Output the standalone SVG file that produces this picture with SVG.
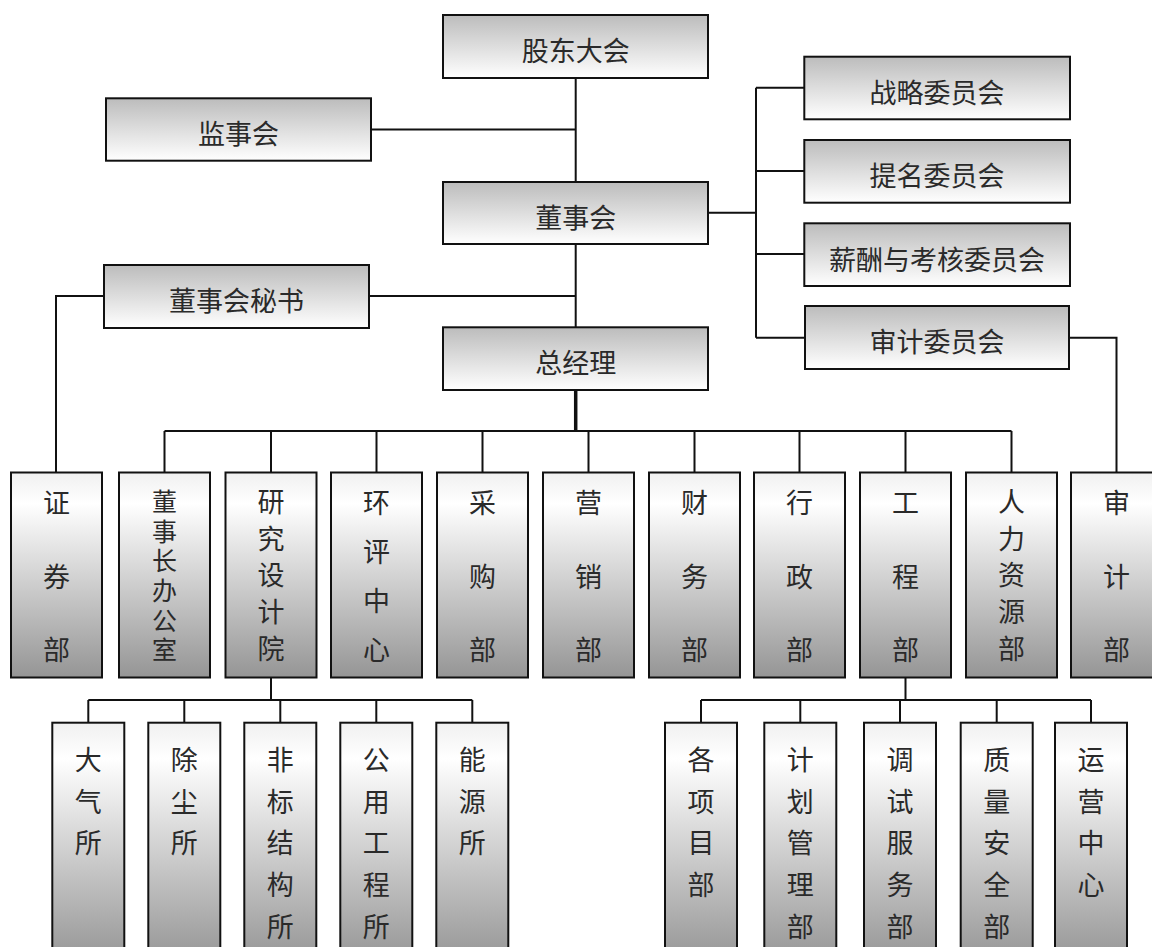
<svg xmlns="http://www.w3.org/2000/svg" width="1152" height="947" viewBox="0 0 1152 947">
<defs>
<linearGradient id="gh" x1="0" y1="0" x2="0" y2="1">
<stop offset="0" stop-color="#bcbcbc"/>
<stop offset="1" stop-color="#ffffff"/>
</linearGradient>
<linearGradient id="gv" x1="0" y1="0" x2="0" y2="1">
<stop offset="0" stop-color="#f0f0f0"/>
<stop offset="0.15" stop-color="#ffffff"/>
<stop offset="1" stop-color="#959595"/>
</linearGradient>
</defs>
<style>
.bh{fill:url(#gh);stroke:#111;stroke-width:2}
.bv{fill:url(#gv);stroke:#111;stroke-width:2}
.t{font-family:"Noto Sans CJK SC","Noto Sans CJK JP",sans-serif;font-size:27px;fill:#2a2a2a;text-anchor:middle}
.vt{font-family:"Noto Sans CJK SC","Noto Sans CJK JP",sans-serif;font-size:25px;fill:#2a2a2a;writing-mode:vertical-rl;text-anchor:start;letter-spacing:4.7px}
.c{fill:none;stroke:#111;stroke-width:2}
.ck{fill:none;stroke:#111;stroke-width:3.5}
</style>
<rect width="1152" height="947" fill="#ffffff"/>
<g id="connectors">
<path class="c" d="M575.7 77.7V182M370.7 129.5H575.7M575.7 244V327.3"/>
<path class="c" d="M104 296H56V472.5M369 296H575.7"/>
<path class="c" d="M708 212.7H756M756 87.7V337.7M756 87.7H804.3M756 171H804.3M756 254H804.3M756 337.7H805"/>
<path class="c" d="M1069 337.7H1116.5V472.5"/>
<path class="ck" d="M575.7 390V431"/>
<path class="c" d="M164.5 431H1011.5M164.5 431V472.5M271 431V472.5M376.5 431V472.5M482.5 431V472.5M588.5 431V472.5M694.5 431V472.5M799.5 431V472.5M905.5 431V472.5M1011.5 431V472.5"/>
<path class="c" d="M271 677.5V700M88.3 700H472.3M88.3 700V722.7M184.3 700V722.7M280.3 700V722.7M376.3 700V722.7M472.3 700V722.7"/>
<path class="c" d="M905.5 677.5V700M701 700H1091M701 700V722.7M800.3 700V722.7M900 700V722.7M996.7 700V722.7M1091 700V722.7"/>
</g>
<g id="n-gudong"><rect class="bh" x="443" y="15" width="265" height="63"/><text class="t" x="575.7" y="61">股东大会</text></g>
<g id="n-jianshi"><rect class="bh" x="106" y="98.3" width="265" height="62.4"/><text class="t" x="238.5" y="144">监事会</text></g>
<g id="n-dongshi"><rect class="bh" x="443" y="182" width="265" height="62"/><text class="t" x="575.7" y="228">董事会</text></g>
<g id="n-mishu"><rect class="bh" x="104" y="265" width="265" height="63"/><text class="t" x="236.5" y="311">董事会秘书</text></g>
<g id="n-zongjingli"><rect class="bh" x="443" y="327.3" width="265" height="62.7"/><text class="t" x="575.7" y="373">总经理</text></g>
<g id="n-zhanlue"><rect class="bh" x="804.3" y="56.7" width="265.7" height="62.6"/><text class="t" x="937" y="102.5">战略委员会</text></g>
<g id="n-timing"><rect class="bh" x="804.3" y="140" width="265.7" height="62.7"/><text class="t" x="937" y="186">提名委员会</text></g>
<g id="n-xinchou"><rect class="bh" x="804.3" y="223.3" width="265.7" height="62.7"/><text class="t" x="937" y="269.5">薪酬与考核委员会</text></g>
<g id="n-shenjiwei"><rect class="bh" x="805" y="306" width="264" height="63"/><text class="t" x="937" y="352">审计委员会</text></g>

<g id="n-zhengquan"><rect class="bv" x="11" y="472.5" width="91" height="205"/><text class="t"><tspan x="56.5" y="513">证</tspan><tspan x="56.5" y="587">券</tspan><tspan x="56.5" y="660">部</tspan></text></g>
<g id="n-dongban"><rect class="bv" x="119" y="472.5" width="91" height="205"/><text class="vt" x="164.5" y="489">董事长办公室</text></g>
<g id="n-yanjiu"><rect class="bv" x="225.5" y="472.5" width="91" height="205"/><text class="t"><tspan x="271" y="511.7">研</tspan><tspan x="271" y="548.5">究</tspan><tspan x="271" y="585.3">设</tspan><tspan x="271" y="622.1">计</tspan><tspan x="271" y="659">院</tspan></text></g>
<g id="n-huanping"><rect class="bv" x="331" y="472.5" width="91" height="205"/><text class="t"><tspan x="376.5" y="513">环</tspan><tspan x="376.5" y="562">评</tspan><tspan x="376.5" y="611">中</tspan><tspan x="376.5" y="660">心</tspan></text></g>
<g id="n-caigou"><rect class="bv" x="437" y="472.5" width="91" height="205"/><text class="t"><tspan x="482.5" y="513">采</tspan><tspan x="482.5" y="587">购</tspan><tspan x="482.5" y="660">部</tspan></text></g>
<g id="n-yingxiao"><rect class="bv" x="543" y="472.5" width="91" height="205"/><text class="t"><tspan x="588.5" y="513">营</tspan><tspan x="588.5" y="587">销</tspan><tspan x="588.5" y="660">部</tspan></text></g>
<g id="n-caiwu"><rect class="bv" x="649" y="472.5" width="91" height="205"/><text class="t"><tspan x="694.5" y="513">财</tspan><tspan x="694.5" y="587">务</tspan><tspan x="694.5" y="660">部</tspan></text></g>
<g id="n-xingzheng"><rect class="bv" x="754" y="472.5" width="91" height="205"/><text class="t"><tspan x="799.5" y="513">行</tspan><tspan x="799.5" y="587">政</tspan><tspan x="799.5" y="660">部</tspan></text></g>
<g id="n-gongcheng"><rect class="bv" x="860" y="472.5" width="91" height="205"/><text class="t"><tspan x="905.5" y="513">工</tspan><tspan x="905.5" y="587">程</tspan><tspan x="905.5" y="660">部</tspan></text></g>
<g id="n-renli"><rect class="bv" x="966" y="472.5" width="91" height="205"/><text class="t"><tspan x="1011.5" y="511.7">人</tspan><tspan x="1011.5" y="548.5">力</tspan><tspan x="1011.5" y="585.3">资</tspan><tspan x="1011.5" y="622.1">源</tspan><tspan x="1011.5" y="659">部</tspan></text></g>
<g id="n-shenji"><rect class="bv" x="1071" y="472.5" width="91" height="205"/><text class="t"><tspan x="1116.5" y="513">审</tspan><tspan x="1116.5" y="587">计</tspan><tspan x="1116.5" y="660">部</tspan></text></g>

<g id="n-daqi"><rect class="bv" x="52.3" y="722.7" width="72" height="240"/><text class="t"><tspan x="88.3" y="770">大</tspan><tspan x="88.3" y="811.7">气</tspan><tspan x="88.3" y="853.3">所</tspan></text></g>
<g id="n-chuchen"><rect class="bv" x="148.3" y="722.7" width="72" height="240"/><text class="t"><tspan x="184.3" y="770">除</tspan><tspan x="184.3" y="811.7">尘</tspan><tspan x="184.3" y="853.3">所</tspan></text></g>
<g id="n-feibiao"><rect class="bv" x="244.3" y="722.7" width="72" height="240"/><text class="t"><tspan x="280.3" y="770">非</tspan><tspan x="280.3" y="811.7">标</tspan><tspan x="280.3" y="853.3">结</tspan><tspan x="280.3" y="895">构</tspan><tspan x="280.3" y="936.7">所</tspan></text></g>
<g id="n-gongyong"><rect class="bv" x="340.3" y="722.7" width="72" height="240"/><text class="t"><tspan x="376.3" y="770">公</tspan><tspan x="376.3" y="811.7">用</tspan><tspan x="376.3" y="853.3">工</tspan><tspan x="376.3" y="895">程</tspan><tspan x="376.3" y="936.7">所</tspan></text></g>
<g id="n-nengyuan"><rect class="bv" x="436.3" y="722.7" width="72" height="240"/><text class="t"><tspan x="472.3" y="770">能</tspan><tspan x="472.3" y="811.7">源</tspan><tspan x="472.3" y="853.3">所</tspan></text></g>

<g id="n-xiangmu"><rect class="bv" x="665" y="722.7" width="72" height="240"/><text class="t"><tspan x="701" y="770">各</tspan><tspan x="701" y="811.7">项</tspan><tspan x="701" y="853.3">目</tspan><tspan x="701" y="895">部</tspan></text></g>
<g id="n-jihua"><rect class="bv" x="764.3" y="722.7" width="72" height="240"/><text class="t"><tspan x="800.3" y="770">计</tspan><tspan x="800.3" y="811.7">划</tspan><tspan x="800.3" y="853.3">管</tspan><tspan x="800.3" y="895">理</tspan><tspan x="800.3" y="936.7">部</tspan></text></g>
<g id="n-tiaoshi"><rect class="bv" x="864" y="722.7" width="72" height="240"/><text class="t"><tspan x="900" y="770">调</tspan><tspan x="900" y="811.7">试</tspan><tspan x="900" y="853.3">服</tspan><tspan x="900" y="895">务</tspan><tspan x="900" y="936.7">部</tspan></text></g>
<g id="n-zhiliang"><rect class="bv" x="960.7" y="722.7" width="72" height="240"/><text class="t"><tspan x="996.7" y="770">质</tspan><tspan x="996.7" y="811.7">量</tspan><tspan x="996.7" y="853.3">安</tspan><tspan x="996.7" y="895">全</tspan><tspan x="996.7" y="936.7">部</tspan></text></g>
<g id="n-yunying"><rect class="bv" x="1055" y="722.7" width="72" height="240"/><text class="t"><tspan x="1091" y="770">运</tspan><tspan x="1091" y="811.7">营</tspan><tspan x="1091" y="853.3">中</tspan><tspan x="1091" y="895">心</tspan></text></g>
</svg>
